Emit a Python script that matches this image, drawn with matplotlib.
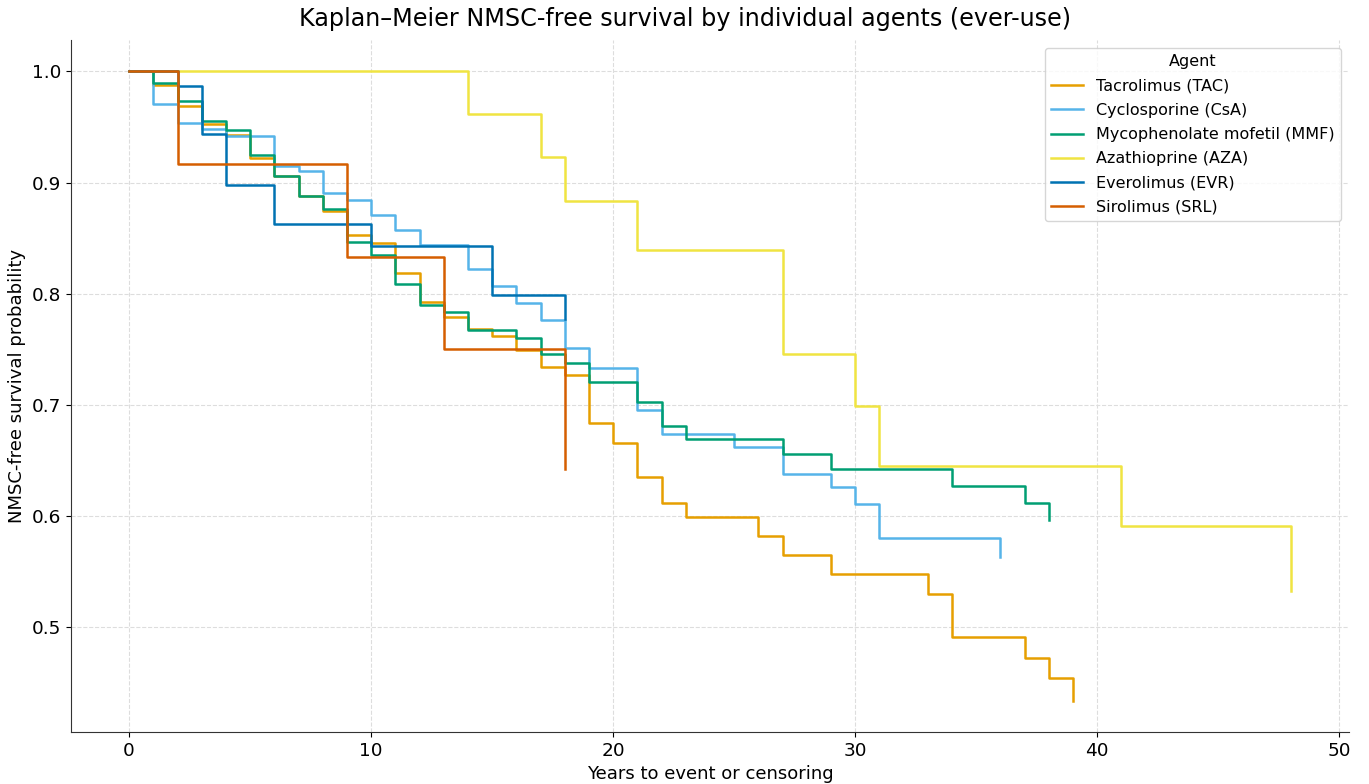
import matplotlib
matplotlib.use("Agg")
import matplotlib.pyplot as plt

# ---- data ----
agents = ["Tacrolimus (TAC)", "Cyclosporine (CsA)", "Mycophenolate mofetil (MMF)",
          "Azathioprine (AZA)", "Everolimus (EVR)", "Sirolimus (SRL)"]

tac_t = [0, 1, 2, 3, 4, 5, 6, 7, 8, 9, 10, 11, 12, 13, 14, 15, 16, 17, 18, 19, 20,
         21, 22, 23, 26, 27, 29, 33, 34, 37, 38, 39]
tac_s = [1.0, 0.988, 0.969, 0.953, 0.943, 0.922, 0.906, 0.888, 0.874, 0.853, 0.846,
         0.819, 0.793, 0.779, 0.768, 0.762, 0.749, 0.734, 0.727, 0.684, 0.666,
         0.635, 0.612, 0.599, 0.582, 0.565, 0.548, 0.530, 0.491, 0.472, 0.454, 0.434]

csa_t = [0, 1, 2, 3, 4, 6, 7, 8, 9, 10, 11, 12, 14, 15, 16, 17, 18, 19, 21, 22, 25,
         27, 29, 30, 31, 36]
csa_s = [1.0, 0.971, 0.954, 0.948, 0.942, 0.915, 0.910, 0.891, 0.884, 0.871, 0.857,
         0.844, 0.822, 0.807, 0.792, 0.776, 0.751, 0.733, 0.695, 0.674, 0.662,
         0.638, 0.626, 0.611, 0.580, 0.563]

mmf_t = [0, 1, 2, 3, 4, 5, 6, 7, 8, 9, 10, 11, 12, 13, 14, 16, 17, 18, 19, 21, 22,
         23, 27, 29, 34, 37, 38]
mmf_s = [1.0, 0.990, 0.973, 0.955, 0.947, 0.925, 0.906, 0.888, 0.876, 0.847, 0.835,
         0.809, 0.790, 0.784, 0.767, 0.760, 0.746, 0.738, 0.721, 0.703, 0.681,
         0.669, 0.656, 0.642, 0.627, 0.612, 0.596]

aza_t = [0, 14, 17, 18, 21, 27, 30, 31, 41, 48]
aza_s = [1.0, 0.962, 0.923, 0.883, 0.839, 0.746, 0.699, 0.645, 0.591, 0.533]

evr_t = [0, 2, 3, 4, 6, 10, 15, 18]
evr_s = [1.0, 0.987, 0.944, 0.898, 0.863, 0.843, 0.799, 0.777]

srl_t = [0, 2, 9, 13, 18]
srl_s = [1.0, 0.917, 0.833, 0.750, 0.642]

colors = ["#E69F00", "#56B4E9", "#009E73", "#F0E442", "#0072B2", "#D55E00"]

series = [(tac_t, tac_s), (csa_t, csa_s), (mmf_t, mmf_s),
          (aza_t, aza_s), (evr_t, evr_s), (srl_t, srl_s)]

# ---- figure ----
W, H = 1369, 784
fig = plt.figure(figsize=(W / 100, H / 100), dpi=100)
left, right, top, bottom = 71, 1349, 40, 732
ax = fig.add_axes([left / W, 1 - bottom / H, (right - left) / W, (bottom - top) / H])

for (t, s), name, c in zip(series, agents, colors):
    ax.step(t, s, where="post", color=c, lw=1.8, label=name)

ax.set_title("Kaplan\u2013Meier NMSC-free survival by individual agents (ever-use)",
             fontsize=17.2, pad=10, x=(685 - left) / (right - left))
ax.set_xlabel("Years to event or censoring", fontsize=13)
ax.set_ylabel("NMSC-free survival probability", fontsize=13)
ax.tick_params(labelsize=13.3)

ax.grid(True, linestyle="--", color="#dddddd", linewidth=0.8)
ax.set_axisbelow(True)
for sp in ["top", "right"]:
    ax.spines[sp].set_visible(False)
for sp in ["left", "bottom"]:
    ax.spines[sp].set_color("#333333")

leg = ax.legend(title="Agent", loc="upper right", fontsize=11.5, title_fontsize=11.5,
                frameon=True, fancybox=True, labelspacing=0.58)
leg.get_frame().set_edgecolor("#cccccc")

fig.savefig("out.png", dpi=100)
